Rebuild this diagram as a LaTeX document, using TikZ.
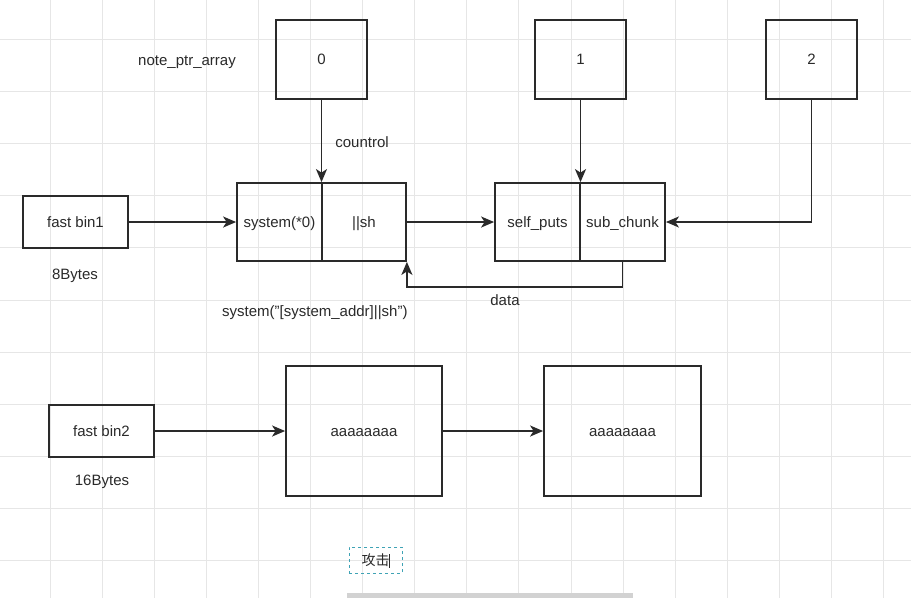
\documentclass[tikz,border=0pt]{standalone}
\usepackage{fontspec}
\setmainfont{Liberation Sans}
\newfontfamily\cjk{Noto Sans CJK SC}
\usetikzlibrary{arrows.meta}
\definecolor{ink}{HTML}{2A2A2A}
\definecolor{gridc}{HTML}{E6E6E6}
\definecolor{selc}{HTML}{3FA3B5}
\definecolor{barc}{HTML}{D2D2D2}
\tikzset{
  box/.style={draw=ink, line width=1.8pt, rectangle, inner sep=0pt, text=ink, text height=10.4pt, text depth=0pt, font=\fontsize{15}{17}\selectfont},
  lbl/.style={text=ink, inner sep=0pt, text height=10.4pt, text depth=0pt, font=\fontsize{15}{17}\selectfont},
  conn/.style={draw=ink, line width=1.8pt, -{Stealth[length=13pt,width=11pt,inset=3.5pt]}},
}
\begin{document}
\begin{tikzpicture}[x=1pt,y=-1pt]
\useasboundingbox (0,0) rectangle (911,598);
\fill[white] (0,0) rectangle (911,598);
% grid
\foreach \k in {0,...,16} { \draw[gridc, line width=1pt] ({50+52.1*\k},0) -- ({50+52.1*\k},598); }
\foreach \k in {-5,...,5} { \draw[gridc, line width=1pt] (0,{300+52.1*\k}) -- (911,{300+52.1*\k}); }
% top array boxes
\node[box, minimum width=91pt, minimum height=79pt] (b0) at (321.5,59.5) {0};
\node[box, minimum width=91pt, minimum height=79pt] (b1) at (580.5,59.5) {1};
\node[box, minimum width=91pt, minimum height=79pt] (b2) at (811.5,59.5) {2};
\node[lbl] (note) at (187,60) {note\_ptr\_array};
% chunk A
\node[box, minimum width=85pt, minimum height=78pt] (A1) at (279.5,222) {system(*0)};
\node[box, minimum width=84pt, minimum height=78pt] (A2) at (364,222) {||sh};
% chunk B
\node[box, minimum width=85pt, minimum height=78pt] (B1) at (537.5,222) {self\_puts};
\node[box, minimum width=85pt, minimum height=78pt] (B2) at (622.5,222) {sub\_chunk};
% fast bins
\node[box, minimum width=105pt, minimum height=52pt] (fb1) at (75.5,222) {fast bin1};
\node[lbl] (s8) at (75,274) {8Bytes};
\node[box, minimum width=105pt, minimum height=52pt] (fb2) at (101.5,431) {fast bin2};
\node[lbl] (s16) at (102,480) {16Bytes};
% big chunks
\node[box, minimum width=156pt, minimum height=130pt] (C1) at (364,431) {aaaaaaaa};
\node[box, minimum width=157pt, minimum height=130pt] (C2) at (622.5,431) {aaaaaaaa};
% labels
\node[lbl] (ctl) at (362,142) {countrol};
\node[lbl] (dat) at (505,300) {data};
\node[lbl, anchor=west] (sys) at (222,311) {system("[system\_addr]||sh")};
% attack text box
\node[draw=selc, dashed, line width=1pt, minimum width=53pt, minimum height=26pt, inner sep=0pt, text=ink] (atk) at (375.5,560) {\cjk\fontsize{14}{16}\selectfont 攻击};
\draw[ink, line width=1.2pt] (389.5,554) -- (389.5,568);
% bottom bar
\fill[barc] (347,593) rectangle (633,598);
% connectors
\draw[conn] (b0.south) -- (b0.south |- A1.north);
\draw[conn] (fb1.east) -- (A1.west);
\draw[conn] (A2.east) -- (B1.west);
\draw[conn] (b1.south) -- (b1.south |- B1.north);
\draw[conn] (b2.south) |- (B2.east);
\coordinate (dturn) at (B2.south |- 0,287);
\draw[conn] (B2.south) -- (dturn) -| (A2.south east);
\draw[conn] (fb2.east) -- (C1.west);
\draw[conn] (C1.east) -- (C2.west);
\end{tikzpicture}
\end{document}
